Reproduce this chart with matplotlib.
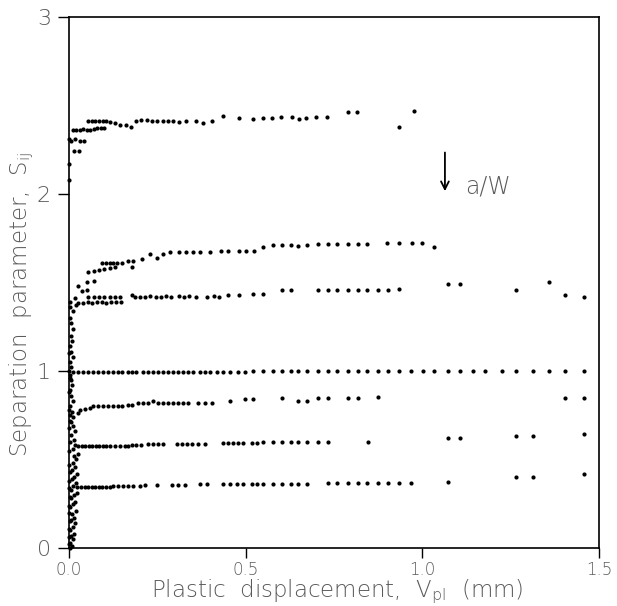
import matplotlib
matplotlib.use("Agg")
import matplotlib.pyplot as plt

# ---------------- data ----------------
# top curve (~2.4)
xA = [0.0, 0.0, 0.014, 0.028, 0.0, 0.005, 0.017, 0.03, 0.043,
      0.01, 0.02, 0.03, 0.04, 0.05, 0.06, 0.07, 0.08, 0.09, 0.1,
      0.055, 0.065, 0.075, 0.085, 0.095, 0.105, 0.115, 0.13, 0.145, 0.16, 0.175,
      0.19, 0.205, 0.22, 0.235, 0.25, 0.265, 0.28, 0.295, 0.31, 0.33,
      0.36, 0.38, 0.405, 0.435, 0.48,
      0.52, 0.55, 0.575, 0.60, 0.63, 0.65, 0.67, 0.70, 0.73,
      0.79, 0.815, 0.934, 0.976]
yA = [2.08, 2.17, 2.24, 2.24, 2.31, 2.30, 2.31, 2.30, 2.30,
      2.36, 2.36, 2.36, 2.365, 2.36, 2.36, 2.365, 2.37, 2.37, 2.37,
      2.41, 2.415, 2.41, 2.415, 2.41, 2.41, 2.405, 2.40, 2.39, 2.39, 2.38,
      2.41, 2.42, 2.42, 2.415, 2.41, 2.415, 2.41, 2.41, 2.405, 2.41,
      2.41, 2.40, 2.41, 2.44, 2.43,
      2.425, 2.43, 2.43, 2.435, 2.435, 2.425, 2.43, 2.435, 2.435,
      2.465, 2.465, 2.38, 2.47]

# second curve (~1.7)
xB = [0.003, 0.017, 0.037, 0.05, 0.025, 0.05, 0.07, 0.055, 0.07, 0.085, 0.10, 0.115, 0.13,
      0.093, 0.105, 0.115, 0.125, 0.135, 0.15, 0.178, 0.167, 0.181, 0.207,
      0.229, 0.249, 0.266, 0.286, 0.31, 0.33, 0.35, 0.37, 0.40,
      0.43, 0.45, 0.48, 0.50, 0.524,
      0.549, 0.577, 0.603, 0.628, 0.648, 0.674,
      0.705, 0.733, 0.759, 0.790, 0.818, 0.843,
      0.90, 0.935, 0.97, 1.00, 1.033]
yB = [1.39, 1.415, 1.45, 1.46, 1.48, 1.50, 1.51, 1.56, 1.565, 1.57, 1.575, 1.58, 1.585,
      1.61, 1.61, 1.61, 1.61, 1.61, 1.61, 1.59, 1.62, 1.62, 1.63,
      1.66, 1.64, 1.66, 1.67, 1.67, 1.67, 1.67, 1.67, 1.67,
      1.68, 1.68, 1.68, 1.68, 1.68,
      1.70, 1.71, 1.71, 1.71, 1.705, 1.71,
      1.72, 1.72, 1.715, 1.72, 1.72, 1.72,
      1.725, 1.725, 1.725, 1.725, 1.70]

# third curve (~1.43)
xC = [0.003, 0.02,
      0.026, 0.04, 0.053, 0.066, 0.08, 0.093, 0.106, 0.12, 0.133, 0.147,
      0.055, 0.07, 0.085, 0.10, 0.115, 0.13, 0.145, 0.177, 0.186, 0.20, 0.215, 0.23,
      0.245, 0.26, 0.275, 0.29, 0.31, 0.325, 0.34, 0.36, 0.39, 0.41, 0.425,
      0.45, 0.48, 0.52, 0.549, 0.603, 0.628,
      0.705, 0.733, 0.759, 0.790, 0.818, 0.843, 0.875, 0.903, 0.934,
      1.073, 1.107, 1.265, 1.359, 1.404, 1.458]
yC = [1.36, 1.375,
      1.385, 1.385, 1.39, 1.385, 1.39, 1.39, 1.385, 1.39, 1.39, 1.39,
      1.42, 1.42, 1.42, 1.42, 1.42, 1.42, 1.42, 1.43, 1.42, 1.42, 1.42, 1.425,
      1.42, 1.42, 1.425, 1.42, 1.425, 1.42, 1.425, 1.42, 1.42, 1.425, 1.42,
      1.43, 1.43, 1.435, 1.437, 1.455, 1.455,
      1.46, 1.46, 1.46, 1.46, 1.46, 1.46, 1.46, 1.46, 1.465,
      1.49, 1.49, 1.455, 1.505, 1.43, 1.42]

# fourth curve (1.0)
xD = [0.011, 0.025, 0.04, 0.054, 0.068, 0.082, 0.096, 0.11, 0.125, 0.139, 0.15,
      0.168, 0.177, 0.191, 0.210, 0.225, 0.239, 0.253, 0.267, 0.281, 0.295, 0.309,
      0.324, 0.338, 0.352, 0.371, 0.385, 0.399, 0.418, 0.437, 0.456, 0.479, 0.498, 0.522,
      0.549, 0.577, 0.603, 0.628, 0.648, 0.674, 0.705, 0.733, 0.759, 0.790, 0.818,
      0.843, 0.875, 0.903, 0.934, 0.968, 1.002, 1.033, 1.073, 1.107, 1.144, 1.177,
      1.226, 1.265, 1.313, 1.359, 1.404, 1.458]
yD = [0.995, 0.995, 0.995, 0.995, 0.995, 0.995, 0.995, 0.995, 0.995, 0.995, 0.995,
      0.995, 0.995, 0.995, 0.995, 0.995, 0.995, 0.995, 0.995, 0.995, 0.995, 0.995,
      0.995, 0.995, 0.995, 0.995, 0.995, 0.995, 0.995, 0.995, 0.995, 0.995, 0.995, 1.0,
      1.0, 1.0, 1.0, 1.0, 1.0, 1.0, 1.0, 1.0, 1.0, 1.0, 1.0,
      1.0, 1.0, 1.0, 1.0, 1.0, 1.0, 1.0, 1.0, 1.0, 1.0, 1.0,
      1.0, 1.0, 1.0, 1.0, 1.0, 1.0]

# fifth curve (~0.83)
xE = [0.003, 0.025, 0.03, 0.045, 0.06,
      0.068, 0.082, 0.096, 0.11, 0.125, 0.139, 0.15,
      0.168, 0.177, 0.196, 0.21, 0.225, 0.239,
      0.253, 0.267, 0.281, 0.295, 0.309, 0.324, 0.338, 0.366, 0.385, 0.405,
      0.456, 0.498, 0.522, 0.603, 0.648, 0.674, 0.705, 0.733, 0.790, 0.818, 0.875,
      1.404, 1.458]
yE = [0.75, 0.76, 0.78, 0.785, 0.79,
      0.80, 0.80, 0.80, 0.80, 0.80, 0.80, 0.80,
      0.81, 0.81, 0.82, 0.82, 0.82, 0.83,
      0.82, 0.82, 0.82, 0.82, 0.82, 0.82, 0.82, 0.82, 0.82, 0.82,
      0.83, 0.84, 0.84, 0.85, 0.83, 0.83, 0.85, 0.85, 0.85, 0.85, 0.855,
      0.85, 0.85]

# sixth curve (~0.6)
xF = [0.026, 0.036, 0.046, 0.056, 0.066, 0.076, 0.086, 0.096, 0.106, 0.116,
      0.13, 0.144, 0.158, 0.168, 0.177, 0.191, 0.205,
      0.225, 0.239, 0.253, 0.267,
      0.305, 0.32, 0.333, 0.348, 0.366, 0.385,
      0.437, 0.45, 0.465, 0.479, 0.493, 0.517, 0.532,
      0.549, 0.577, 0.603, 0.628, 0.648, 0.674, 0.705, 0.733, 0.847,
      1.073, 1.107, 1.265, 1.313, 1.458]
yF = [0.577, 0.577, 0.577, 0.577, 0.577, 0.577, 0.577, 0.577, 0.577, 0.577,
      0.575, 0.575, 0.575, 0.575, 0.58, 0.58, 0.58,
      0.585, 0.585, 0.585, 0.585,
      0.59, 0.59, 0.59, 0.59, 0.59, 0.59,
      0.595, 0.595, 0.595, 0.595, 0.595, 0.595, 0.595,
      0.60, 0.60, 0.60, 0.60, 0.60, 0.60, 0.60, 0.60, 0.60,
      0.62, 0.62, 0.63, 0.635, 0.645]

# seventh curve (~0.37)
xG = [0.024, 0.034, 0.044, 0.054, 0.064, 0.074, 0.084, 0.094, 0.105, 0.116,
      0.125, 0.139, 0.153, 0.167, 0.181, 0.201,
      0.215, 0.249, 0.291, 0.309, 0.328, 0.371, 0.39,
      0.437, 0.456, 0.475, 0.493, 0.518, 0.532,
      0.549, 0.577, 0.603, 0.628, 0.648, 0.674,
      0.733, 0.759, 0.790, 0.818, 0.843, 0.875, 0.903, 0.934, 0.968,
      1.073, 1.265, 1.313, 1.458]
yG = [0.345, 0.345, 0.345, 0.345, 0.345, 0.345, 0.345, 0.345, 0.345, 0.345,
      0.35, 0.35, 0.35, 0.35, 0.35, 0.35,
      0.357, 0.357, 0.355, 0.355, 0.355, 0.36, 0.36,
      0.36, 0.36, 0.36, 0.36, 0.36, 0.36,
      0.36, 0.36, 0.36, 0.36, 0.36, 0.36,
      0.367, 0.367, 0.367, 0.367, 0.367, 0.367, 0.367, 0.367, 0.367,
      0.375, 0.40, 0.40, 0.42]

# elastic (initial) rise, dense column of points near V_pl = 0
x_rise_a = [0.002, 0.009, 0.004, 0.012, 0.006, 0.015, 0.003, 0.010, 0.018, 0.005,
            0.013, 0.008, 0.020, 0.004, 0.011, 0.016, 0.007, 0.014, 0.022, 0.006,
            0.012, 0.019, 0.009, 0.015, 0.024, 0.008, 0.017, 0.011, 0.021, 0.014,
            0.026, 0.010, 0.018, 0.013, 0.007, 0.016, 0.010, 0.005, 0.012, 0.008,
            0.004, 0.010, 0.006, 0.003, 0.009, 0.005, 0.002, 0.007, 0.004, 0.010,
            0.006, 0.003, 0.008, 0.005, 0.012, 0.007, 0.004, 0.010]
y_rise_a = [0.00, 0.01, 0.03, 0.05, 0.07, 0.08, 0.10, 0.12, 0.14, 0.16,
            0.17, 0.19, 0.21, 0.23, 0.25, 0.26, 0.28, 0.30, 0.31, 0.33,
            0.35, 0.37, 0.39, 0.40, 0.42, 0.44, 0.46, 0.48, 0.50, 0.52,
            0.53, 0.56, 0.58, 0.61, 0.64, 0.66, 0.69, 0.71, 0.74, 0.77,
            0.80, 0.83, 0.86, 0.89, 0.92, 0.95, 0.98, 1.02, 1.05, 1.08,
            1.11, 1.14, 1.17, 1.20, 1.24, 1.27, 1.30, 1.34]
x_rise_b = [0.000, 0.001, 0.000, 0.002, 0.001, 0.000, 0.003, 0.001, 0.000, 0.002,
            0.001, 0.000, 0.002, 0.001, 0.003, 0.000, 0.001, 0.002, 0.000, 0.001]
y_rise_b = [0.02, 0.06, 0.11, 0.15, 0.20, 0.24, 0.29, 0.34, 0.38, 0.43,
            0.47, 0.55, 0.60, 0.68, 0.72, 0.78, 0.88, 0.96, 1.00, 1.10]

x_ticks = [0.0, 0.5, 1.0, 1.5]
x_tick_labels = ["0.0", "0.5", "1.0", "1.5"]
y_ticks = [0, 1, 2, 3]
y_tick_labels = ["0", "1", "2", "3"]

# ---------------- drawing ----------------
plt.rcParams['font.family'] = ['DejaVu Sans']
plt.rcParams['font.weight'] = 'light'
plt.rcParams['mathtext.default'] = 'regular'
text_color = '#5a5a5a'

fig = plt.figure(figsize=(6.17, 6.06), dpi=100)
ax = fig.add_axes([0.1118, 0.0957, 0.8590, 0.8763])

series = [(xA, yA), (xB, yB), (xC, yC), (xD, yD), (xE, yE), (xF, yF), (xG, yG),
          (x_rise_a, y_rise_a), (x_rise_b, y_rise_b)]
for xs, ys in series:
    ax.plot(xs, ys, linestyle='none', marker='o', ms=3.0, mfc='black', mec='black',
            mew=0, clip_on=False, zorder=3)

ax.set_xlim(0, 1.5)
ax.set_ylim(0, 3)
ax.set_xticks(x_ticks)
ax.set_xticklabels(x_tick_labels, fontsize=12, color=text_color)
ax.set_yticks(y_ticks)
ax.set_yticklabels(y_tick_labels, fontsize=16, color=text_color)
ax.tick_params(axis='x', direction='out', length=7, width=1.0, pad=2)
ax.tick_params(axis='y', direction='out', length=8, width=1.0, pad=5)

for sp in ax.spines.values():
    sp.set_linewidth(1.2)
    sp.set_color('black')

fig.text(337 / 617, 1 - 597 / 606, r"Plastic  displacement,  V$_{pl}$  (mm)",
         ha='center', va='baseline', fontsize=16.5, color=text_color)
fig.text(22 / 617, 1 - 304 / 606, r"Separation  parameter,  S$_{ij}$",
         ha='center', va='center', rotation=90, fontsize=16.5, color=text_color)

ax.annotate('', xy=(1.064, 2.0), xytext=(1.064, 2.25),
            arrowprops=dict(arrowstyle='->', lw=1.3, color='black', mutation_scale=14))
ax.text(1.122, 2.04, 'a/W', fontsize=17, color=text_color, va='center', ha='left')

fig.savefig('out.png', dpi=100)
